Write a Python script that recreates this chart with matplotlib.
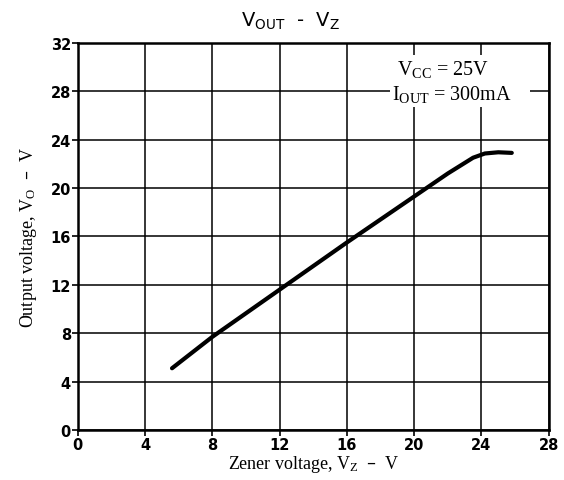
import matplotlib
matplotlib.use('Agg')
import matplotlib.pyplot as plt

# Данные кривой Vout - Vz
vz = [5.6, 8, 12, 16, 20, 22, 23.5, 24.2, 25, 25.8]
vout = [5.1, 7.7, 11.6, 15.5, 19.3, 21.2, 22.5, 22.85, 22.95, 22.9]

x_ticks = [0, 4, 8, 12, 16, 20, 24, 28]
y_ticks = [0, 4, 8, 12, 16, 20, 24, 28, 32]

plt.rcParams['mathtext.default'] = 'regular'

fig = plt.figure(figsize=(5.64, 4.81), dpi=100)
ax = fig.add_axes([0.138, 0.104, 0.835, 0.805])

ax.plot(vz, vout, color='black', linewidth=3.0, solid_capstyle='round', zorder=3)

ax.set_xlim(0, 28)
ax.set_ylim(0, 32)
ax.set_xticks(x_ticks)
ax.set_yticks(y_ticks)
ax.set_xticklabels([str(t) for t in x_ticks], fontweight='bold', fontsize=10.5)
ax.set_yticklabels([str(t) for t in y_ticks], fontweight='bold', fontsize=10.5)
ax.tick_params(length=4, width=1.2, direction='out', pad=1)
ax.grid(True, color='black', linewidth=1.1)
for s in ax.spines.values():
    s.set_linewidth(1.8)

ax.set_xlabel('Zener voltage, V$_{Z}$  –  V', family='Liberation Serif', fontsize=13, labelpad=1)
ax.set_ylabel('Output voltage, V$_{O}$  –  V', family='Liberation Serif', fontsize=13, labelpad=8)

fig.text(0.515, 0.955, 'V$_{OUT}$  -  V$_{Z}$', ha='center', va='center', fontsize=14)

# Условия измерения
ax.text(18.7, 28.85, ' V$_{CC}$ = 25V\nI$_{OUT}$ = 300mA    ', ha='left', va='center',
        family='Liberation Serif', fontsize=14.5, linespacing=1.25,
        bbox=dict(facecolor='white', edgecolor='none', pad=2), zorder=4)

fig.savefig('out.png', dpi=100)
